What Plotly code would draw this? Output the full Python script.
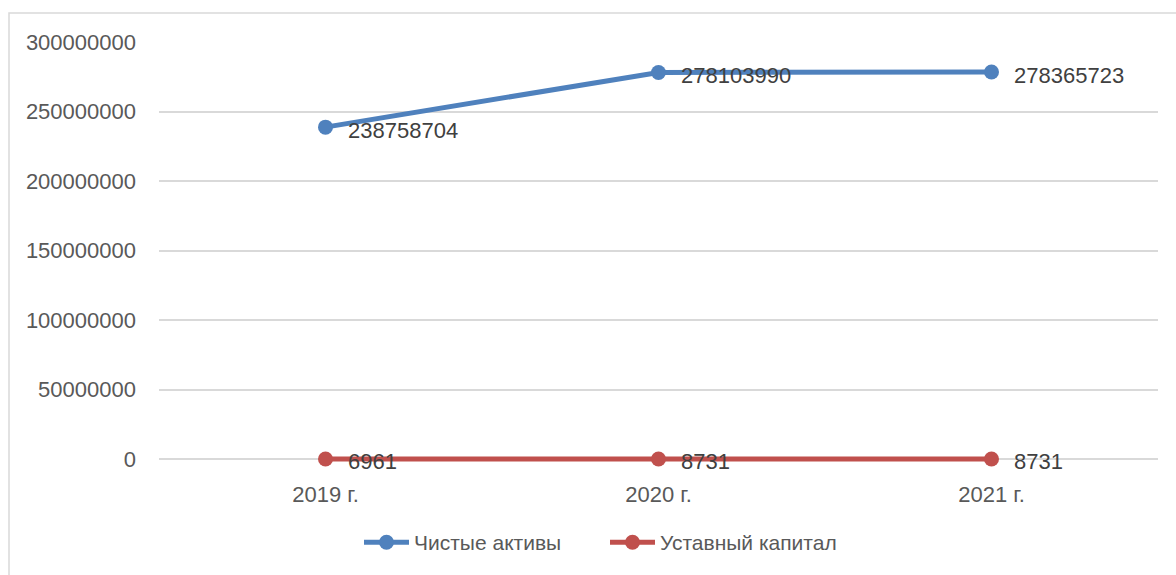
import plotly.graph_objects as go

categories = ["2019 г.", "2020 г.", "2021 г."]
net_assets = [238758704, 278103990, 278365723]
charter_capital = [6961, 8731, 8731]
series_names = ["Чистые активы", "Уставный капитал"]
y_ticks = [0, 50000000, 100000000, 150000000, 200000000, 250000000, 300000000]

FONT = "Liberation Sans"
W, H = 1176, 575
L, R, T = 159, 18, 42
PLOT_H = 417 + 6          # 6px below zero so the zero line isn't clipped
B = H - T - PLOT_H
YMAX = 300000000
YMIN = -6 * YMAX / 417

fig = go.Figure()
colors = ["#4F81BD", "#C0504D"]
for name, vals, color in [(series_names[0], net_assets, colors[0]),
                          (series_names[1], charter_capital, colors[1])]:
    fig.add_trace(go.Scatter(
        x=categories, y=vals, name=name, mode="lines+markers",
        line=dict(color=color, width=5),
        marker=dict(color=color, size=15),
        cliponaxis=False,
    ))
    for c, v in zip(categories, vals):
        fig.add_annotation(x=c, y=v, xref="x", yref="y", text=str(v),
                           showarrow=False, xanchor="left", yanchor="middle",
                           xshift=20, yshift=-3,
                           font=dict(family=FONT, size=22, color="#404040"))

fig.update_layout(
    width=W, height=H,
    margin=dict(l=L, r=R, t=T, b=B, autoexpand=False),
    paper_bgcolor="white", plot_bgcolor="white",
    font=dict(family=FONT, size=22, color="#595959"),
    showlegend=True,
    legend=dict(orientation="h", x=(359 - L) / (W - L - R), xanchor="left",
                y=-0.135, yanchor="top",
                font=dict(family=FONT, size=21, color="#595959"),
                itemwidth=45, tracegroupgap=0,
                entrywidth=186, entrywidthmode="pixels"),
    xaxis=dict(range=[-0.5, 2.5], showgrid=False, zeroline=False, showline=False,
               ticks="", tickfont=dict(size=22, color="#595959"),
               ticklabelstandoff=14),
    yaxis=dict(range=[YMIN, YMAX], tickvals=y_ticks, ticktext=[str(v) for v in y_ticks],
               showgrid=True, gridcolor="#D9D9D9", gridwidth=1.5, zeroline=False,
               showline=False, ticks="", tickfont=dict(size=22, color="#595959"),
               ticklabelstandoff=22),
    shapes=[dict(type="rect", xref="paper", yref="paper",
                 x0=(9 - L) / (W - L - R), x1=1.2, y0=-0.6, y1=1 + 29 / PLOT_H,
                 line=dict(color="#D9D9D9", width=1.5), layer="below")],
)
fig.write_html("out.html", config={"displayModeBar": False},
               post_script="document.body.style.margin='0';")
